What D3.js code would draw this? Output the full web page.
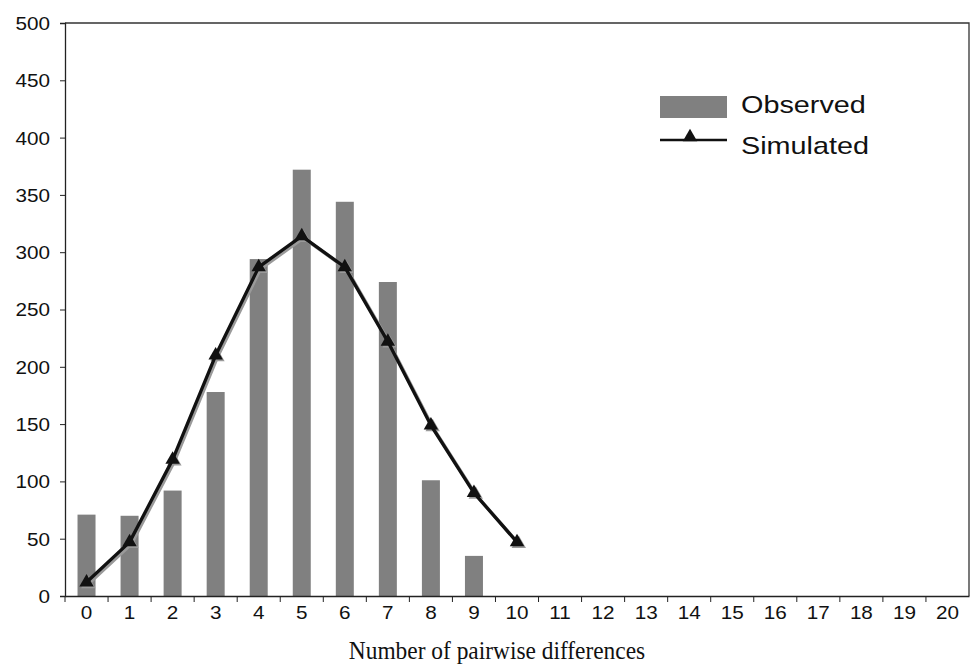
<!DOCTYPE html>
<html>
<head>
<meta charset="utf-8">
<script src="https://cdn.jsdelivr.net/npm/d3@7"></script>
<style>
  body { margin: 0; background: #fff; }
  svg { display: block; }
  .tick-label { font-family: "Liberation Sans", Arial, sans-serif; font-size: 18px; fill: #111; }
</style>
</head>
<body>
<div id="chart"></div>
<script>
// data
var categories = ['0','1','2','3','4','5','6','7','8','9','10','11','12','13','14','15','16','17','18','19','20'];
var observed = [71, 70, 92, 178, 294, 372, 344, 274, 101, 35];
var simulated = [12, 47, 119, 210, 287, 314, 287, 222, 149, 90, 47];
var yTicks = [0, 50, 100, 150, 200, 250, 300, 350, 400, 450, 500];

var width = 971, height = 668;
var margin = { top: 23, right: 2, bottom: 72, left: 65 };
var stretch = 1.15; // the original text is wider than it is tall

var svg = d3.select('#chart').append('svg')
  .attr('width', width)
  .attr('height', height);

var x = d3.scaleBand()
  .domain(categories)
  .range([margin.left, width - margin.right])
  .paddingInner(0)
  .paddingOuter(0);

var y = d3.scaleLinear()
  .domain([0, 500])
  .range([height - margin.bottom, margin.top]);

var barW = 18;

// bars
svg.append('g')
  .selectAll('rect')
  .data(observed)
  .enter().append('rect')
  .attr('x', function(d, i) { return x(categories[i]) + x.bandwidth() / 2 - barW / 2; })
  .attr('y', function(d) { return y(d); })
  .attr('width', barW)
  .attr('height', function(d) { return y(0) - y(d); })
  .attr('fill', '#808080');

// frame top + right
svg.append('path')
  .attr('d', 'M' + margin.left + ',' + y(500) + 'H' + (width - margin.right) + 'V' + y(0))
  .attr('fill', 'none')
  .attr('stroke', '#333')
  .attr('stroke-width', 1.3);

// simulated line, with its grey shadow
var line = d3.line()
  .x(function(d, i) { return x(categories[i]) + x.bandwidth() / 2; })
  .y(function(d) { return y(d); });

var tri = d3.symbol().type(d3.symbolTriangle).size(90);

function addLine(offset, color) {
  var g = svg.append('g').attr('transform', 'translate(' + offset + ',' + offset + ')');
  g.append('path')
    .datum(simulated)
    .attr('d', line)
    .attr('fill', 'none')
    .attr('stroke', color)
    .attr('stroke-width', 3.3)
    .attr('stroke-linejoin', 'round');
  g.selectAll('.m')
    .data(simulated)
    .enter().append('path')
    .attr('transform', function(d, i) {
      return 'translate(' + (x(categories[i]) + x.bandwidth() / 2) + ',' + y(d) + ')';
    })
    .attr('d', tri)
    .attr('fill', color);
}
addLine(1.8, '#9a9a9a');
addLine(0, '#111');

// y axis
var yAxis = svg.append('g')
  .attr('transform', 'translate(' + margin.left + ',0)')
  .call(d3.axisLeft(y).tickValues(yTicks).tickSize(5).tickPadding(0));
yAxis.select('.domain').attr('stroke', '#222').attr('stroke-width', 1.3);
yAxis.selectAll('.tick line').attr('stroke', '#222');
yAxis.selectAll('.tick text')
  .attr('class', 'tick-label')
  .attr('x', -15 / stretch)
  .attr('dy', '0.36em')
  .attr('transform', 'scale(' + stretch + ',1)');

// x axis: ticks on band edges, labels centred
var xAxis = svg.append('g')
  .attr('transform', 'translate(0,' + y(0) + ')')
  .call(d3.axisBottom(x).tickSize(0).tickPadding(0));
xAxis.select('.domain').attr('stroke', '#222').attr('stroke-width', 1.3);
xAxis.selectAll('.tick text')
  .attr('class', 'tick-label')
  .attr('y', 23)
  .attr('dy', 0)
  .attr('transform', 'scale(' + stretch + ',1)');

xAxis.selectAll('.edge')
  .data(categories)
  .enter().append('line')
  .attr('x1', function(d) { return x(d); })
  .attr('x2', function(d) { return x(d); })
  .attr('y1', 0)
  .attr('y2', 6)
  .attr('stroke', '#222');

// axis title
svg.append('text')
  .attr('transform', 'translate(497,659) scale(0.9,1)')
  .attr('text-anchor', 'middle')
  .style('font-family', '"Liberation Serif", "Times New Roman", serif')
  .style('font-size', '26px')
  .attr('fill', '#111')
  .text('Number of pairwise differences');

// legend
var legend = svg.append('g');
legend.append('rect')
  .attr('x', 660).attr('y', 96)
  .attr('width', 67).attr('height', 22)
  .attr('fill', '#808080');
legend.append('line')
  .attr('x1', 660).attr('x2', 727)
  .attr('y1', 140).attr('y2', 140)
  .attr('stroke', '#111').attr('stroke-width', 2.5);
legend.append('path')
  .attr('transform', 'translate(690,137)')
  .attr('d', tri)
  .attr('fill', '#111');

var legendText = ['Observed', 'Simulated'];
legend.selectAll('.lt')
  .data(legendText)
  .enter().append('text')
  .attr('transform', function(d, i) { return 'translate(741,' + (113 + i * 41) + ') scale(1.2,1)'; })
  .style('font-family', '"Liberation Sans", Arial, sans-serif')
  .style('font-size', '24px')
  .attr('fill', '#111')
  .text(function(d) { return d; });
</script>
</body>
</html>
